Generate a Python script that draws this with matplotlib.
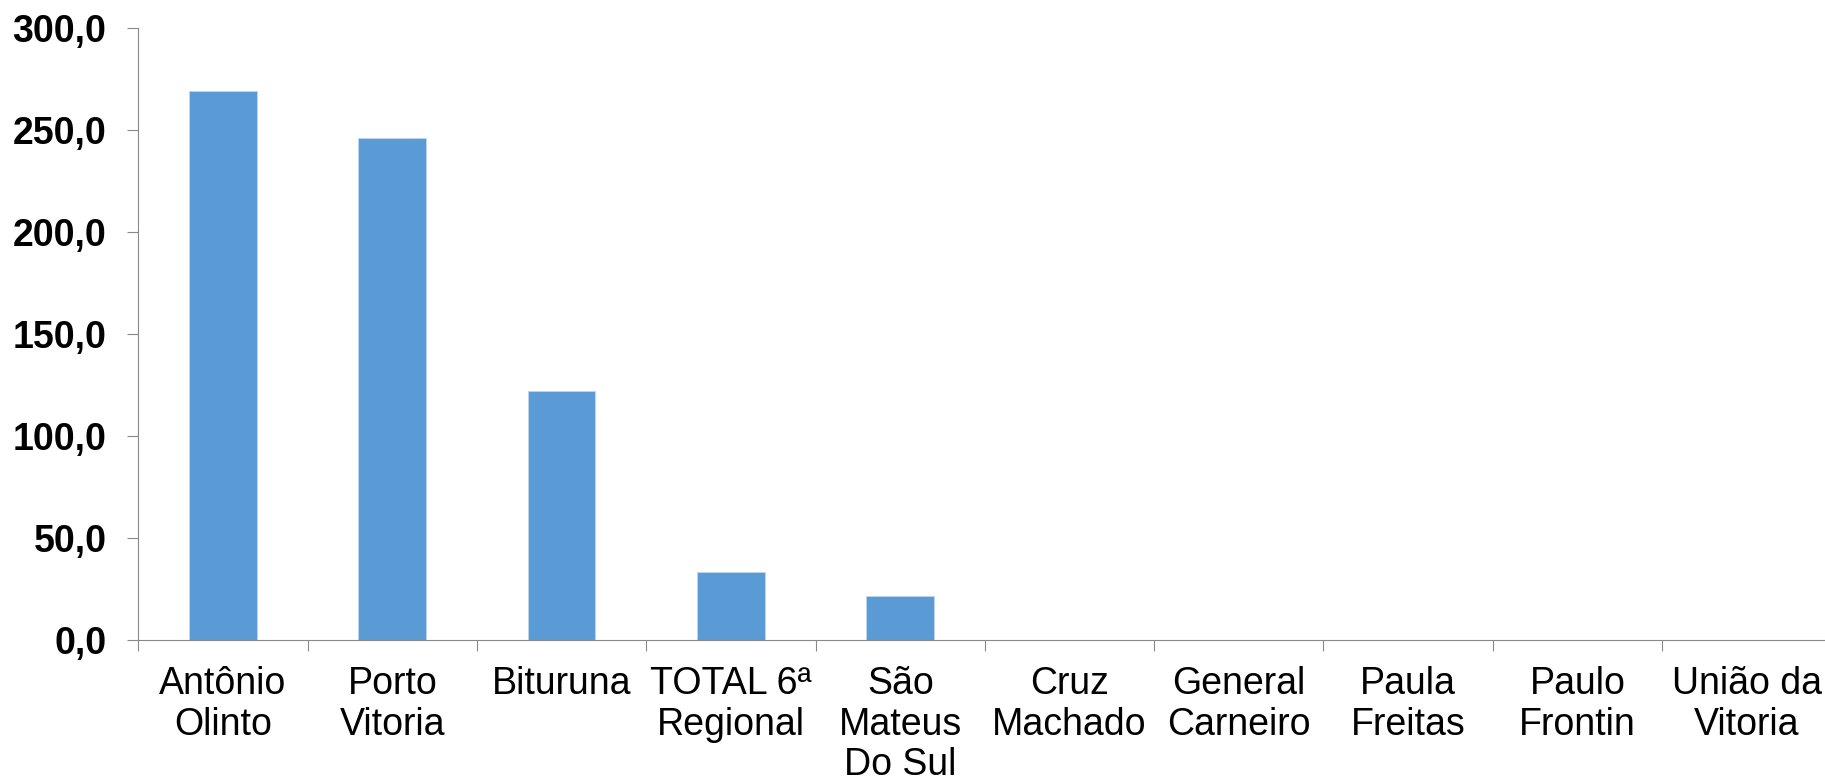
import numpy as np
import matplotlib
matplotlib.use("Agg")
import matplotlib.pyplot as plt
from matplotlib.ticker import FuncFormatter, FixedLocator

plt.rcParams['font.family'] = ['Liberation Sans', 'DejaVu Sans']

categories = ["Antônio\nOlinto", "Porto\nVitoria", "Bituruna", "TOTAL 6ª\nRegional",
              "São\nMateus\nDo Sul", "Cruz\nMachado", "General\nCarneiro",
              "Paula\nFreitas", "Paulo\nFrontin", "União da\nVitoria"]
values = [269.0, 246.0, 122.0, 33.5, 21.5, 0.0, 0.0, 0.0, 0.0, 0.0]
y_ticks = [0, 50, 100, 150, 200, 250, 300]

bar_color = "#5B9BD5"
axis_color = "#898989"

fig = plt.figure(figsize=(18.25, 7.83), dpi=100)
ax = fig.add_axes([0.0758, 0.1826, 0.9277, 0.7816])

x = np.arange(len(categories))
ax.bar(x, values, width=0.4, color=bar_color, edgecolor="#BDD7EE", linewidth=0.6)

ax.set_xlim(-0.5, len(categories) - 0.5)
ax.set_ylim(0, 300)

ax.set_yticks(y_ticks)
ax.yaxis.set_major_formatter(FuncFormatter(lambda v, p: f"{v:.1f}".replace(".", ",")))
ax.tick_params(axis='y', length=8, width=0.8, color=axis_color, pad=15,
               labelsize=27)
for lbl in ax.get_yticklabels():
    lbl.set_fontweight('bold')

# category labels in the middle, tick marks between categories
ax.set_xticks(x)
ax.set_xticklabels(categories, fontsize=27, linespacing=1.15)
ax.tick_params(axis='x', which='major', length=0, pad=19)
ax.xaxis.set_minor_locator(FixedLocator(np.arange(-0.5, len(categories), 1.0)))
ax.tick_params(axis='x', which='minor', length=8, width=0.8, color=axis_color)

for side in ['top', 'right']:
    ax.spines[side].set_visible(False)
for side in ['left', 'bottom']:
    ax.spines[side].set_color(axis_color)
    ax.spines[side].set_linewidth(0.8)

fig.savefig("out.png", dpi=100)
